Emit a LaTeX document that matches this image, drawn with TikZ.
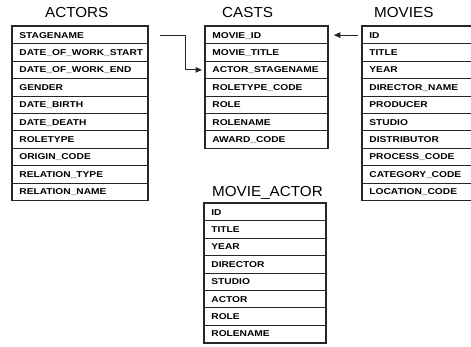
\documentclass[tikz,border=0pt]{standalone}
\usepackage{fontspec}
\setmainfont{Liberation Sans}
\newfontfamily\fieldfont{Liberation Sans}[FakeStretch=1.2]
\newfontfamily\titlefont{Liberation Sans}[FakeStretch=1.05]
\usetikzlibrary{arrows.meta}

\tikzset{
  x=1pt, y=-1pt,
  field/.style={draw=black!85, line width=0.8pt, anchor=north west,
    minimum height=17.4pt, inner xsep=0pt, inner ysep=0pt,
    align=left, text height=6.1pt, text depth=0pt,
    font=\fieldfont\bfseries\fontsize{8.5}{9}\selectfont},
  tabtitle/.style={anchor=base west, inner sep=0pt,
    font=\titlefont\fontsize{14.5}{16}\selectfont},
  frame/.style={draw=black!85, line width=1.4pt},
  link/.style={draw=black!85, line width=1.1pt,
    -{Triangle[length=6.5pt,width=5.5pt]}}
}

% \fieldlist{name}{x}{y}{width}{fields}: one column of field rows
\newcommand\fieldlist[5]{%
  \foreach \f [count=\i] in {#5}
    \node[field, text width=#4pt] (#1-\i) at (#2,{#3+17.4*(\i-1)}) {\hspace*{7pt}\f};
}

\begin{document}
\begin{tikzpicture}
\useasboundingbox (0,0) rectangle (471,347);

% ACTORS
\node[tabtitle] (actors-title) at (45,18) {ACTORS};
\fieldlist{actors}{12}{26}{135}{STAGENAME, DATE\_OF\_WORK\_START, DATE\_OF\_WORK\_END,
  GENDER, DATE\_BIRTH, DATE\_DEATH, ROLETYPE, ORIGIN\_CODE, RELATION\_TYPE, RELATION\_NAME}
\draw[frame] (actors-1.north west) rectangle (actors-10.south east);

% CASTS
\node[tabtitle] (casts-title) at (222,18) {CASTS};
\fieldlist{casts}{205}{26}{122}{MOVIE\_ID, MOVIE\_TITLE, ACTOR\_STAGENAME, ROLETYPE\_CODE,
  ROLE, ROLENAME, AWARD\_CODE}
\draw[frame] (casts-1.north west) rectangle (casts-7.south east);

% MOVIES
\node[tabtitle] (movies-title) at (374,18) {MOVIES};
\fieldlist{movies}{362}{26}{112}{ID, TITLE, YEAR, DIRECTOR\_NAME, PRODUCER, STUDIO,
  DISTRIBUTOR, PROCESS\_CODE, CATEGORY\_CODE, LOCATION\_CODE}
\draw[frame] (movies-1.north west) rectangle (movies-10.south east);

% MOVIE_ACTOR
\node[tabtitle] (ma-title) at (212,197) {MOVIE\_ACTOR};
\fieldlist{ma}{204}{203}{121}{ID, TITLE, YEAR, DIRECTOR, STUDIO, ACTOR, ROLE, ROLENAME}
\draw[frame] (ma-1.north west) rectangle (ma-8.south east);

% references
\draw[link] ([xshift=12pt]actors-1.east) -- ++(26,0) |- ([xshift=-3pt]casts-3.west);
\draw[link] ([xshift=-4pt]movies-1.west) -- ([xshift=6pt]casts-1.east);
\end{tikzpicture}
\end{document}
